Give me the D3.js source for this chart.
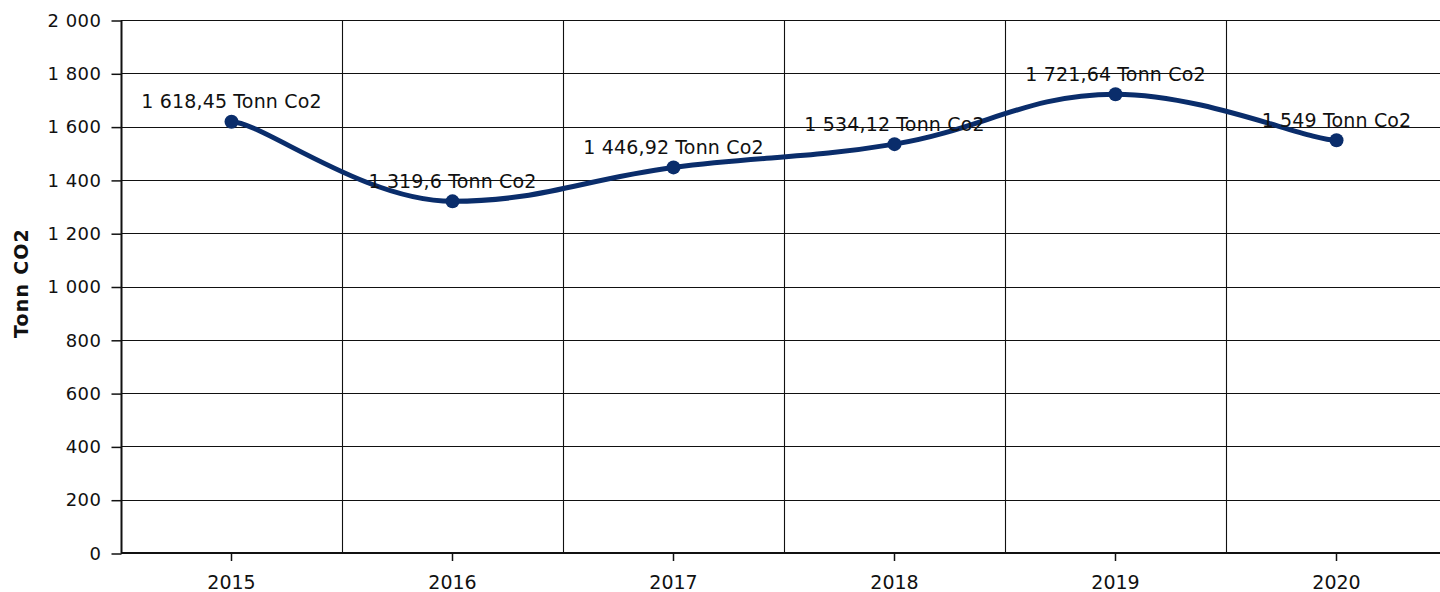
<!DOCTYPE html>
<html>
<head>
<meta charset="utf-8">
<script src="https://cdn.jsdelivr.net/npm/d3@7"></script>
<style>
  html, body { margin: 0; padding: 0; background: #fff; }
  svg { display: block; font-family: "DejaVu Sans", Verdana, sans-serif; }
</style>
</head>
<body>
<svg id="chart" width="1440" height="592"></svg>
<script>
const years = ["2015", "2016", "2017", "2018", "2019", "2020"];
const values = [1618.45, 1319.6, 1446.92, 1534.12, 1721.64, 1549];
const labels = ["1 618,45 Tonn Co2", "1 319,6 Tonn Co2", "1 446,92 Tonn Co2", "1 534,12 Tonn Co2", "1 721,64 Tonn Co2", "1 549 Tonn Co2"];
const yTicks = [0, 200, 400, 600, 800, 1000, 1200, 1400, 1600, 1800, 2000];
const yTickLabels = ["0", "200", "400", "600", "800", "1 000", "1 200", "1 400", "1 600", "1 800", "2 000"];
const yTitle = "Tonn CO2";

(function () {
const svg = d3.select("#chart");
const pL = 121, pR = 1447, pT = 20, pB = 553;
const gridColor = "#111";
const lineColor = "#0a2d6b";

const x = d3.scaleBand().domain(years).range([pL, pR]).paddingInner(0).paddingOuter(0);
const y = d3.scaleLinear().domain([0, 2000]).range([pB, pT]);

// horizontal gridlines
svg.append("g").selectAll("line").data(yTicks).join("line")
  .attr("x1", pL).attr("x2", pR)
  .attr("y1", d => Math.round(y(d)) + 0.5).attr("y2", d => Math.round(y(d)) + 0.5)
  .attr("stroke", gridColor).attr("stroke-width", 1.1);

// vertical gridlines at band boundaries
const bounds = years.map(d => x(d)).concat([pR]);
svg.append("g").selectAll("line").data(bounds.slice(1)).join("line")
  .attr("x1", d => Math.round(d) + 0.5).attr("x2", d => Math.round(d) + 0.5)
  .attr("y1", pT).attr("y2", pB)
  .attr("stroke", gridColor).attr("stroke-width", 1.1);

// y axis
const yAxis = d3.axisLeft(y).tickValues(yTicks)
  .tickFormat((d, i) => yTickLabels[i]).tickSize(10).tickPadding(10);
const gy = svg.append("g").attr("transform", `translate(${pL + 0.5},0.5)`).call(yAxis);
gy.select(".domain").attr("stroke", gridColor).attr("stroke-width", 2).attr("d", `M0,${pT}V${pB}`);
gy.selectAll(".tick line").attr("stroke", gridColor).attr("stroke-width", 1.5);
gy.selectAll(".tick text").attr("font-size", 18).attr("fill", "#111")
  .attr("font-family", '"DejaVu Sans", Verdana, sans-serif').style("letter-spacing", "0.5px");

// x axis
const xAxis = d3.axisBottom(x).tickSize(8).tickPadding(15);
const gx = svg.append("g").attr("transform", `translate(0,${pB})`).call(xAxis);
gx.select(".domain").attr("stroke", gridColor).attr("stroke-width", 2).attr("d", `M${pL},0H${pR}`);
gx.selectAll(".tick line").attr("stroke", gridColor).attr("stroke-width", 1.5);
gx.selectAll(".tick text").attr("font-size", 19).attr("fill", "#111")
  .attr("font-family", '"DejaVu Sans", Verdana, sans-serif').style("letter-spacing", "0px");

// y title
svg.append("text")
  .attr("transform", `translate(28,283) rotate(-90)`)
  .attr("text-anchor", "middle")
  .attr("font-size", 19).attr("font-weight", "bold").attr("fill", "#111")
  .style("letter-spacing", "1.2px")
  .text(yTitle);

const pts = years.map((d, i) => ({ year: d, value: values[i], label: labels[i] }));
const cx = d => x(d.year) + x.bandwidth() / 2;

// smoothed spline built from the scaled points
const P = pts.map(d => ({ px: cx(d), py: y(d.value) }));
const smoothing = 1.5, denom = smoothing + 1;
const endHandle = 0.136 * x.bandwidth();
P.forEach((p, i) => {
  const a = P[i - 1], b = P[i + 1];
  if (!a) { p.rx = p.px + endHandle; p.ry = p.py; return; }
  if (!b) { p.lx = p.px - endHandle; p.ly = p.py; return; }
  let lx = (smoothing * p.px + a.px) / denom, ly = (smoothing * p.py + a.py) / denom;
  let rx = (smoothing * p.px + b.px) / denom, ry = (smoothing * p.py + b.py) / denom;
  const corr = ((ry - ly) * (rx - p.px)) / (rx - lx) + p.py - ry;
  ly += corr; ry += corr;
  if (ly > a.py && ly > p.py) { ly = Math.max(a.py, p.py); ry = 2 * p.py - ly; }
  else if (ly < a.py && ly < p.py) { ly = Math.min(a.py, p.py); ry = 2 * p.py - ly; }
  if (ry > b.py && ry > p.py) { ry = Math.max(b.py, p.py); ly = 2 * p.py - ry; }
  else if (ry < b.py && ry < p.py) { ry = Math.min(b.py, p.py); ly = 2 * p.py - ry; }
  p.lx = lx; p.ly = ly; p.rx = rx; p.ry = ry;
});
const path = d3.path();
path.moveTo(P[0].px, P[0].py);
for (let i = 1; i < P.length; i++) {
  const a = P[i - 1], p = P[i];
  path.bezierCurveTo(a.rx, a.ry, p.lx, p.ly, p.px, p.py);
}
svg.append("path")
  .attr("d", path.toString()).attr("fill", "none")
  .attr("stroke", lineColor).attr("stroke-width", 5).attr("stroke-linecap", "round");

// points
svg.append("g").selectAll("circle").data(pts).join("circle")
  .attr("cx", cx).attr("cy", d => y(d.value)).attr("r", 7).attr("fill", lineColor);

// labels
svg.append("g").selectAll("text").data(pts).join("text")
  .attr("x", cx).attr("y", d => y(d.value) - 13.5)
  .attr("text-anchor", "middle")
  .attr("font-size", 19).attr("fill", "#111")
  .style("letter-spacing", "0.15px")
  .text(d => d.label);
})();
</script>
</body>
</html>
